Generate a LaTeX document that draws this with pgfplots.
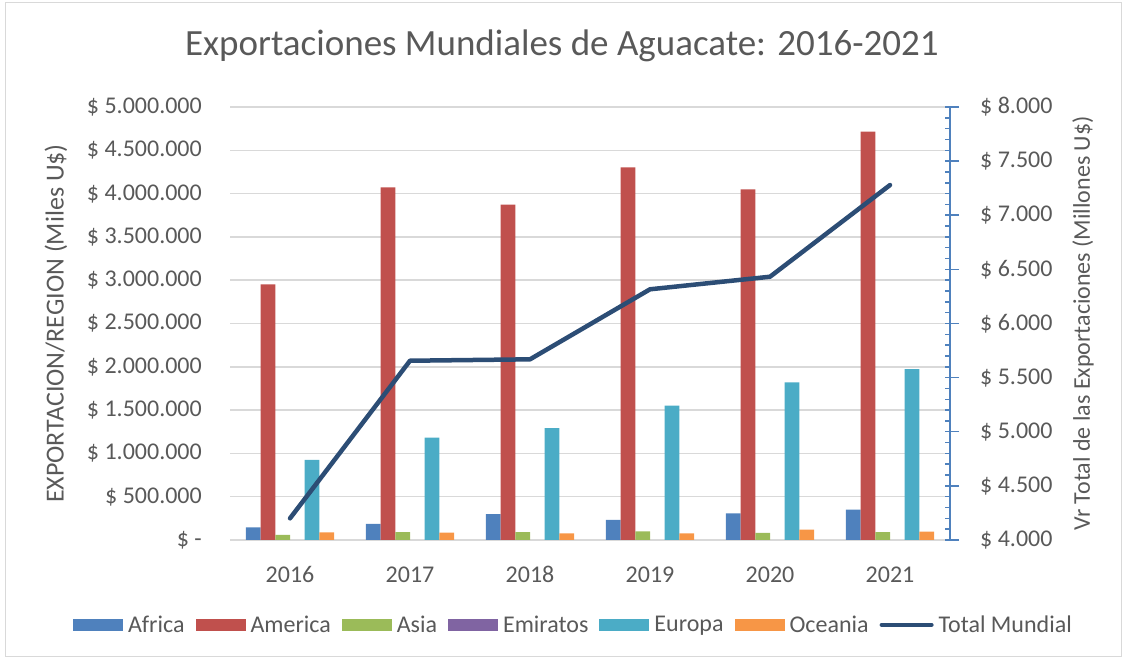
\documentclass[border=0pt]{standalone}
\usepackage{pgfplots}
\pgfplotsset{compat=1.18}
\usepackage{pgfplotstable}
\usepackage{fontspec}
\setmainfont{Carlito}

\definecolor{cAfr}{HTML}{4F81BD}
\definecolor{cAme}{HTML}{C0504D}
\definecolor{cAsi}{HTML}{9BBB59}
\definecolor{cEmi}{HTML}{8064A2}
\definecolor{cEur}{HTML}{4BACC6}
\definecolor{cOce}{HTML}{F79646}
\definecolor{cTot}{HTML}{2C4D75}
\definecolor{cTxt}{HTML}{595959}
\definecolor{cGrid}{HTML}{D9D9D9}
\definecolor{cAxis}{HTML}{4F81BD}

% exportaciones por region (miles US$) y total mundial (millones US$)
\pgfplotstableread{
x africa america asia emiratos europa oceania total
0 147000 2952000 58000 0 924000 89000 4200
1 185000 4073000 92000 0 1181000 85000 5656
2 300000 3872000 92000 0 1293000 77000 5669
3 231000 4303000 100000 0 1551000 77000 6316
4 308000 4050000 81000 0 1821000 119000 6432
5 350000 4715000 92000 0 1974000 96000 7279
}\datos

\newcommand{\f}{\fontsize{24bp}{28bp}\selectfont}
\pgfplotsset{
  sw/.style={legend image code/.code={\fill[#1] (0bp,-6bp) rectangle (50bp,6bp);}},
  base/.style={
    at={(230bp,119bp)}, anchor=south west,
    width=720bp, height=433bp, scale only axis,
    xmin=-0.5, xmax=5.5,
  },
}

\begin{document}
\begin{tikzpicture}
\useasboundingbox (0bp,0bp) rectangle (1125bp,659bp);
\draw[cGrid, line width=1bp] (5bp,2bp) rectangle (1121bp,656bp);

\begin{axis}[base,
  ymin=0, ymax=5000000,
  axis x line*=bottom, axis y line*=left,
  x axis line style={draw=cGrid, line width=1.5bp, -},
  y axis line style={draw=none},
  major tick length=0pt,
  xtick={0,1,2,3,4,5},
  xticklabels={2016,2017,2018,2019,2020,2021},
  ytick={0,500000,1000000,1500000,2000000,2500000,3000000,3500000,4000000,4500000,5000000},
  yticklabels={\$ -\hspace{10bp},\$ 500.000,\$ 1.000.000,\$ 1.500.000,\$ 2.000.000,\$ 2.500.000,\$ 3.000.000,\$ 3.500.000,\$ 4.000.000,\$ 4.500.000,\$ 5.000.000},
  scaled y ticks=false,
  ymajorgrids, grid style={cGrid, line width=1.5bp},
  xticklabel style={font=\f, text=cTxt, anchor=base, inner sep=0pt, yshift=-42bp},
  yticklabel style={font=\f, text=cTxt, anchor=east, inner sep=0pt, xshift=-28bp},
  ylabel={EXPORTACION/REGION (Miles U\$)},
  ylabel style={font=\fontsize{26bp}{30bp}\selectfont, text=cTxt, at={(axis description cs:-0.2417,0.5)}, rotate=0, anchor=center},
  title={Exportaciones Mundiales de Aguacate: 2016-2021},
  title style={font=\fontsize{37bp}{44bp}\selectfont, text=cTxt, at={(axis description cs:0.461,1.104)}, anchor=base},
  legend columns=7,
  legend style={at={(axis description cs:0.477,-0.196)}, anchor=center, draw=none, fill=none,
    font=\f, text=cTxt, inner sep=0pt,
    /tikz/every odd column/.append style={column sep=3bp},
    /tikz/every even column/.append style={column sep=9bp}},
  ybar, bar width=14.7bp,
]
\addplot[fill=cAfr, draw=none, bar shift=-36.75bp, sw=cAfr] table[x=x, y=africa] {\datos};
\addlegendentry{Africa}
\addplot[fill=cAme, draw=none, bar shift=-22.05bp, sw=cAme] table[x=x, y=america] {\datos};
\addlegendentry{America}
\addplot[fill=cAsi, draw=none, bar shift=-7.35bp, sw=cAsi] table[x=x, y=asia] {\datos};
\addlegendentry{Asia}
\addplot[fill=cEmi, draw=none, bar shift=7.35bp, sw=cEmi] table[x=x, y=emiratos] {\datos};
\addlegendentry{Emiratos}
\addplot[fill=cEur, draw=none, bar shift=22.05bp, sw=cEur] table[x=x, y=europa] {\datos};
\addlegendentry{Europa}
\addplot[fill=cOce, draw=none, bar shift=36.75bp, sw=cOce] table[x=x, y=oceania] {\datos};
\addlegendentry{Oceania}
\addlegendimage{legend image code/.code={\draw[cTot, line width=4bp, line cap=round] (0bp,0bp) -- (50bp,0bp);}}
\addlegendentry{Total Mundial}
\end{axis}

\begin{axis}[base,
  ymin=4000, ymax=8000,
  axis x line=none, axis y line*=right,
  y axis line style={draw=cAxis, line width=1.5bp, -},
  ytick={4000,4500,5000,5500,6000,6500,7000,7500,8000},
  yticklabels={\$ 4.000,\$ 4.500,\$ 5.000,\$ 5.500,\$ 6.000,\$ 6.500,\$ 7.000,\$ 7.500,\$ 8.000},
  minor y tick num=4,
  tick align=inside,
  major tick length=14bp, minor tick length=5bp,
  tick style={draw=cAxis, line width=1.5bp},
  major tick style={xshift=9bp},
  yticklabel style={font=\f, text=cTxt, anchor=west, inner sep=0pt, xshift=30bp},
  ylabel={Vr Total de las Exportaciones (Millones U\$)},
  ylabel style={font=\f, text=cTxt, at={(axis description cs:1.1847,0.5)}, rotate=0, anchor=center},
]
\addplot[cTot, line width=4.5bp, line cap=round, line join=round] table[x=x, y=total] {\datos};
\end{axis}
\end{tikzpicture}
\end{document}
